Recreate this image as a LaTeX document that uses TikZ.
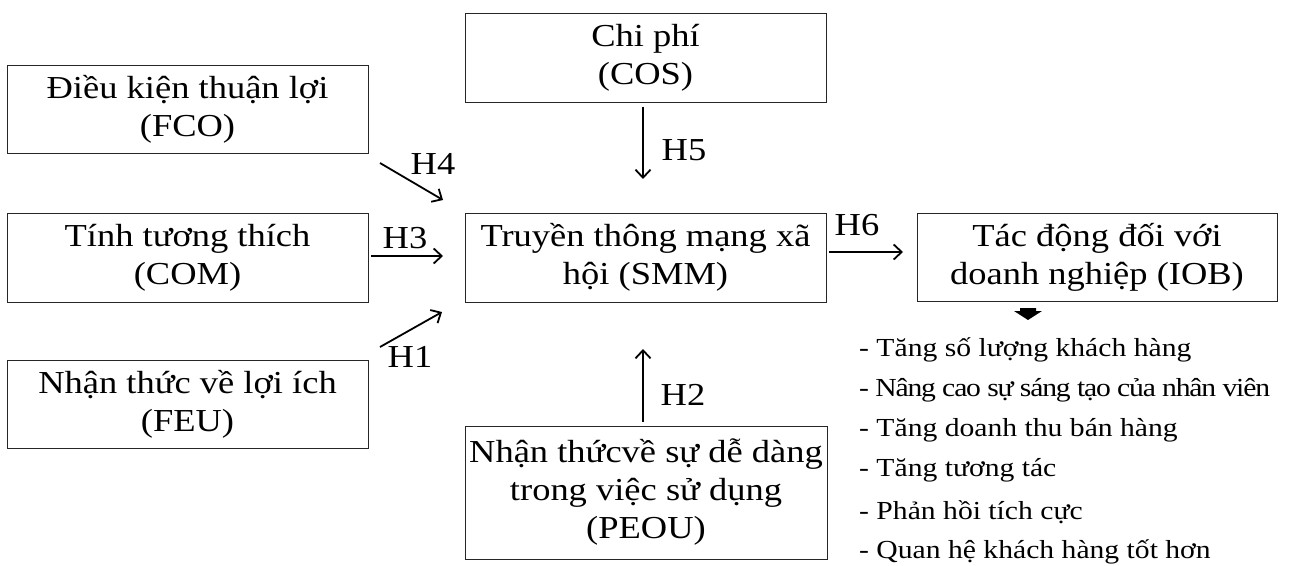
\documentclass[tikz,border=0pt]{standalone}
\usepackage{fontspec}
\setmainfont{Liberation Serif}[FakeStretch=1.14]
\usetikzlibrary{arrows.meta}
\tikzset{
  box/.style={draw=black!85, line width=0.8pt, align=center, inner sep=0pt,
    font=\fontsize{32}{38}\selectfont},
  conn/.style={line width=1.8pt, -{Straight Barb[length=8pt,width=15pt,line width=1.8pt]}},
  lab/.style={inner sep=0pt, font=\fontsize{32}{34}\selectfont},
  item/.style={inner sep=0pt, anchor=west, font=\fontsize{26}{30}\selectfont},
}
\begin{document}
\begin{tikzpicture}[x=1pt,y=-1pt]
\useasboundingbox (0,0) rectangle (1293,565);
\node[box, minimum width=361pt, minimum height=88pt] (fco) at (187.5,109) {Điều kiện thuận lợi\\(FCO)};
\node[box, minimum width=361pt, minimum height=89pt] (com) at (187.5,257.5) {Tính tương thích\\(COM)};
\node[box, minimum width=361pt, minimum height=88pt] (feu) at (187.5,404) {Nhận thức về lợi ích\\(FEU)};
\node[box, minimum width=361pt, minimum height=89pt] (cos) at (645.5,57.5) {Chi phí\\(COS)};
\node[box, minimum width=361pt, minimum height=89pt] (smm) at (645.5,257.5) {Truyền thông mạng xã\\hội (SMM)};
\node[box, minimum width=362pt, minimum height=133pt] (peou) at (646,492.5) {Nhận thứcvề sự dễ dàng\\trong việc sử dụng\\(PEOU)};
\node[box, minimum width=360pt, minimum height=88pt] (iob) at (1097,257) {Tác động đối với\\doanh nghiệp (IOB)};

\coordinate (h4s) at (380,163);
\coordinate (h4e) at (443,200);
\coordinate (h3s) at (371,256);
\coordinate (h3e) at (443,256);
\coordinate (h1s) at (380,347);
\coordinate (h1e) at (442,312);
\coordinate (h5s) at (643,107);
\coordinate (h5e) at (643,179);
\coordinate (h2s) at (643,422);
\coordinate (h2e) at (643,349);
\coordinate (h6s) at (829,252);
\coordinate (h6e) at (903,252);

\draw[conn] (h4s) -- (h4e);
\draw[conn] (h3s) -- (h3e);
\draw[conn] (h1s) -- (h1e);
\draw[conn] (h5s) -- (h5e);
\draw[conn] (h2s) -- (h2e);
\draw[conn] (h6s) -- (h6e);

\node[lab] (l4) at (433,164) {H4};
\node[lab] (l3) at (405,238) {H3};
\node[lab] (l1) at (410,357) {H1};
\node[lab] (l5) at (684,150) {H5};
\node[lab] (l2) at (683,395) {H2};
\node[lab] (l6) at (857,225) {H6};

\fill[black] (1020,308) -- (1036,308) -- (1036,311) -- (1042,311) -- (1028,320) -- (1014,311) -- (1020,311) -- cycle;

\node[item] (i1) at (859,350) {- Tăng số lượng khách hàng};
\node[item] (i2) at (859,390) {\addfontfeatures{LetterSpace=-4.5}- Nâng cao sự sáng tạo của nhân viên};
\node[item] (i3) at (859,430) {- Tăng doanh thu bán hàng};
\node[item] (i4) at (859,470) {- Tăng tương tác};
\node[item] (i5) at (859,512) {- Phản hồi tích cực};
\node[item] (i6) at (859,552) {- Quan hệ khách hàng tốt hơn};
\end{tikzpicture}
\end{document}
